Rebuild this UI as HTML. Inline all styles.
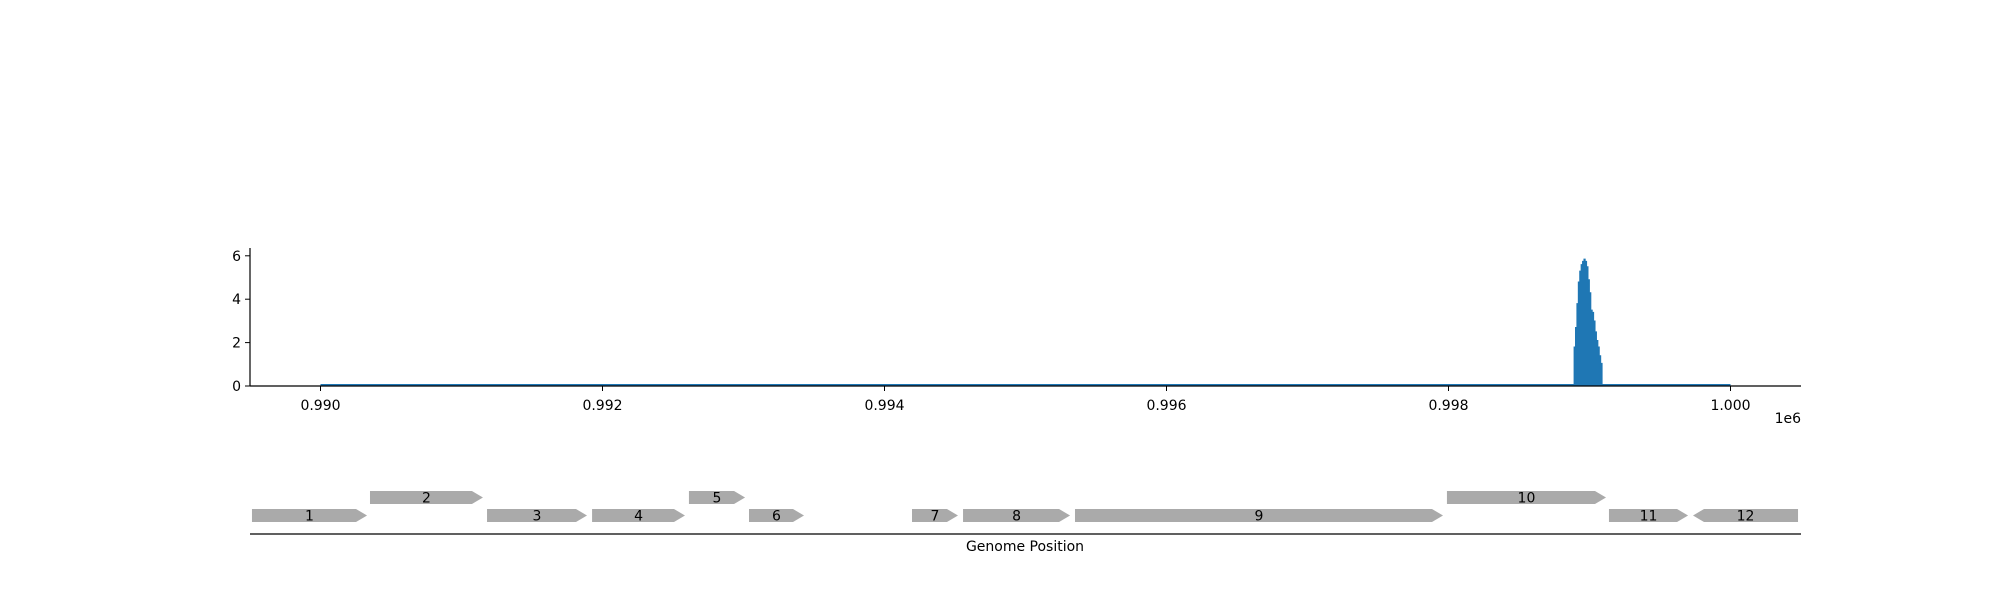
<!DOCTYPE html>
<html><head><meta charset="utf-8"><style>
html,body{margin:0;padding:0;background:#fff;}
svg text{font-family:"DejaVu Sans","Liberation Sans",sans-serif;font-size:14px;fill:#000;}
</style></head><body>
<svg id="chart" width="2000" height="600" xmlns="http://www.w3.org/2000/svg">
<g id="cov"></g>
<g id="genes"></g>
</svg>
<script>
const covPos = [998890,998900,998910,998920,998930,998940,998950,998960,998970,998980,998990,999000,999010,999020,999030,999040,999050,999060,999070,999080];
const covVal = [1.8,2.7,3.8,4.8,5.3,5.6,5.75,5.85,5.75,5.5,4.9,4.3,3.5,3.4,3.0,2.5,2.1,1.8,1.4,1.05];
const covBinEnd = 999090;
const lineStart = 990000, lineEnd = 1000000;
const xTicks = [990000,992000,994000,996000,998000,1000000];
const xTickLabels = ["0.990","0.992","0.994","0.996","0.998","1.000"];
const yTicks = [0,2,4,6];
const geneNames = ["1","2","3","4","5","6","7","8","9","10","11","12"];
const geneStart = [989514,990351,991181,991926,992613,993039,994195,994557,995351,997989,999138,999734];
const geneEnd   = [990330,991152,991890,992585,993011,993429,994521,995316,997961,999117,999699,1000479];
const geneStrand= [1,1,1,1,1,1,1,1,1,1,1,-1];
const geneRow   = [0,1,0,0,1,0,0,0,0,1,0,0];

const NS="http://www.w3.org/2000/svg";
const X0=250,X1=1801,D0=989500,D1=1000500;
const x=v=>X0+(v-D0)/(D1-D0)*(X1-X0);
const Y0=386, yScale=21.7;
const y=v=>Y0-v*yScale;
function mk(tag,attrs,parent){const e=document.createElementNS(NS,tag);for(const k in attrs)e.setAttribute(k,attrs[k]);parent.appendChild(e);return e;}
const cov=document.getElementById('cov'), genes=document.getElementById('genes');

// baseline line
let bl=mk('line',{x1:x(lineStart),x2:x(lineEnd),y1:y(0)-1,y2:y(0)-1,stroke:'#1f77b4','stroke-width':2},cov);


// peak step area
let d=`M${x(covPos[0])},${y(0)}`;
for(let i=0;i<covPos.length;i++){const xe=i<covPos.length-1?covPos[i+1]:covBinEnd;d+=` L${x(covPos[i])},${y(covVal[i])} L${x(xe)},${y(covVal[i])}`;}
d+=` L${x(covBinEnd)},${y(0)} Z`;
let pk=mk('path',{d:d,fill:'#1f77b4',stroke:'#1f77b4','stroke-width':0.8},cov);



// axes
let ya=mk('line',{x1:X0,x2:X0,y1:248,y2:Y0,stroke:'#000','stroke-width':1.2},cov);


let xa=mk('line',{x1:X0,x2:X1,y1:Y0,y2:Y0,stroke:'#000','stroke-width':1.2},cov);


yTicks.forEach(t=>{
  mk('line',{x1:X0-5,x2:X0,y1:y(t),y2:y(t),stroke:'#000','stroke-width':1},cov);
  const tx=mk('text',{x:X0-9,y:y(t)+5,'text-anchor':'end'},cov);tx.textContent=t;
  
  
});
xTicks.forEach((t,i)=>{
  mk('line',{x1:x(t),x2:x(t),y1:Y0,y2:Y0+5,stroke:'#000','stroke-width':1},cov);
  const tx=mk('text',{x:x(t),y:Y0+24,'text-anchor':'middle'},cov);tx.textContent=xTickLabels[i];
  
  
});
let off=mk('text',{x:X1,y:423,'text-anchor':'end'},cov);off.textContent='1e6';



// genes
const rowTop=[509,491], H=13, AR=11;
geneNames.forEach((n,i)=>{
  const a=x(geneStart[i]), b=x(geneEnd[i]), t=rowTop[geneRow[i]], m=t+H/2;
  let pts;
  if(geneStrand[i]>0) pts=`${a},${t} ${b-AR},${t} ${b},${m} ${b-AR},${t+H} ${a},${t+H}`;
  else pts=`${a},${m} ${a+AR},${t} ${b},${t} ${b},${t+H} ${a+AR},${t+H}`;
  const p=mk('polygon',{points:pts,fill:'#aaaaaa'},genes);
  
  
  const tx=mk('text',{x:(a+b)/2,y:m+5,'text-anchor':'middle'},genes);tx.textContent=n;
  
  
});
let gl=mk('line',{x1:X0,x2:X1,y1:534,y2:534,stroke:'#000','stroke-width':1.2},genes);


let gt=mk('text',{x:1025,y:551,'text-anchor':'middle'},genes);gt.textContent='Genome Position';


</script>
</body></html>
